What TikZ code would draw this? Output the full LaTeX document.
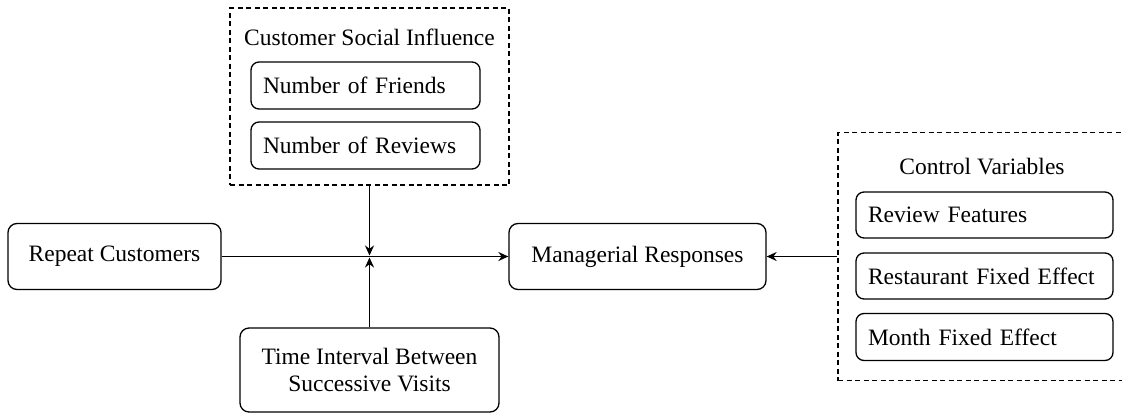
\documentclass[tikz,border=0pt]{standalone}
\usepackage{fontspec}
\setmainfont{Liberation Serif}[Ligatures=TeX]
\newfontfamily\diagfont{Liberation Serif}
\usetikzlibrary{arrows.meta}
\begin{document}
\begin{tikzpicture}[x=1pt,y=-1pt,
  font=\diagfont\fontsize{23.5}{27}\selectfont,
  rbox/.style={draw, line width=1.3pt, rounded corners=9pt, align=center, inner sep=0pt},
  lbox/.style={draw, line width=1.3pt, rounded corners=8pt, align=left, inner xsep=12pt, inner ysep=0pt},
  dbox/.style={draw, line width=1.1pt, dash pattern=on 5pt off 3.5pt, inner sep=0pt},
  arr/.style={line width=1.7pt, -{Stealth[length=10pt,width=9pt]}}]
\useasboundingbox (0,0) rectangle (1122,413);
\clip (0,0) rectangle (1122,413);
% groups
\node[dbox, minimum width=279pt, minimum height=177pt] (csi) at (369.5,96.5) {};
\node (csit) at (369.5,37) {Customer Social Influence};
\node[lbox, text width=205pt, minimum height=47pt] (fr) at (365.5,85.5) {Number of Friends};
\node[lbox, text width=205pt, minimum height=47pt] (rv) at (365.5,145.5) {Number of Reviews};
\node[dbox, minimum width=302pt, minimum height=248pt] (cv) at (989,256.5) {};
\node (cvt) at (982,167) {Control Variables};
\node[lbox, text width=233pt, minimum height=46pt] (rf) at (984.5,215) {Review Features};
\node[lbox, text width=233pt, minimum height=46pt] (rfe) at (984.5,276) {Restaurant Fixed Effect};
\node[lbox, text width=233pt, minimum height=47pt] (mfe) at (984.5,337) {Month Fixed Effect};
% main boxes
\node[rbox, minimum width=213pt, minimum height=66pt] (rc) at (114.5,256.5) {Repeat Customers};
\node[rbox, minimum width=257pt, minimum height=66pt] (mr) at (637.5,256.5) {Managerial Responses};
\node[rbox, minimum width=259pt, minimum height=84pt] (ti) at (369.5,370) {Time Interval Between\\Successive Visits};
% connectors
\coordinate (jt) at (369.5,255.5);
\coordinate (jb) at (369.5,257.5);
\draw[arr] (rc.east) -- (mr.west);
\draw[arr] (csi.south) -- (jt);
\draw[arr] (ti.north) -- (jb);
\draw[arr] (cv.west) -- (mr.east);
\end{tikzpicture}
\end{document}
